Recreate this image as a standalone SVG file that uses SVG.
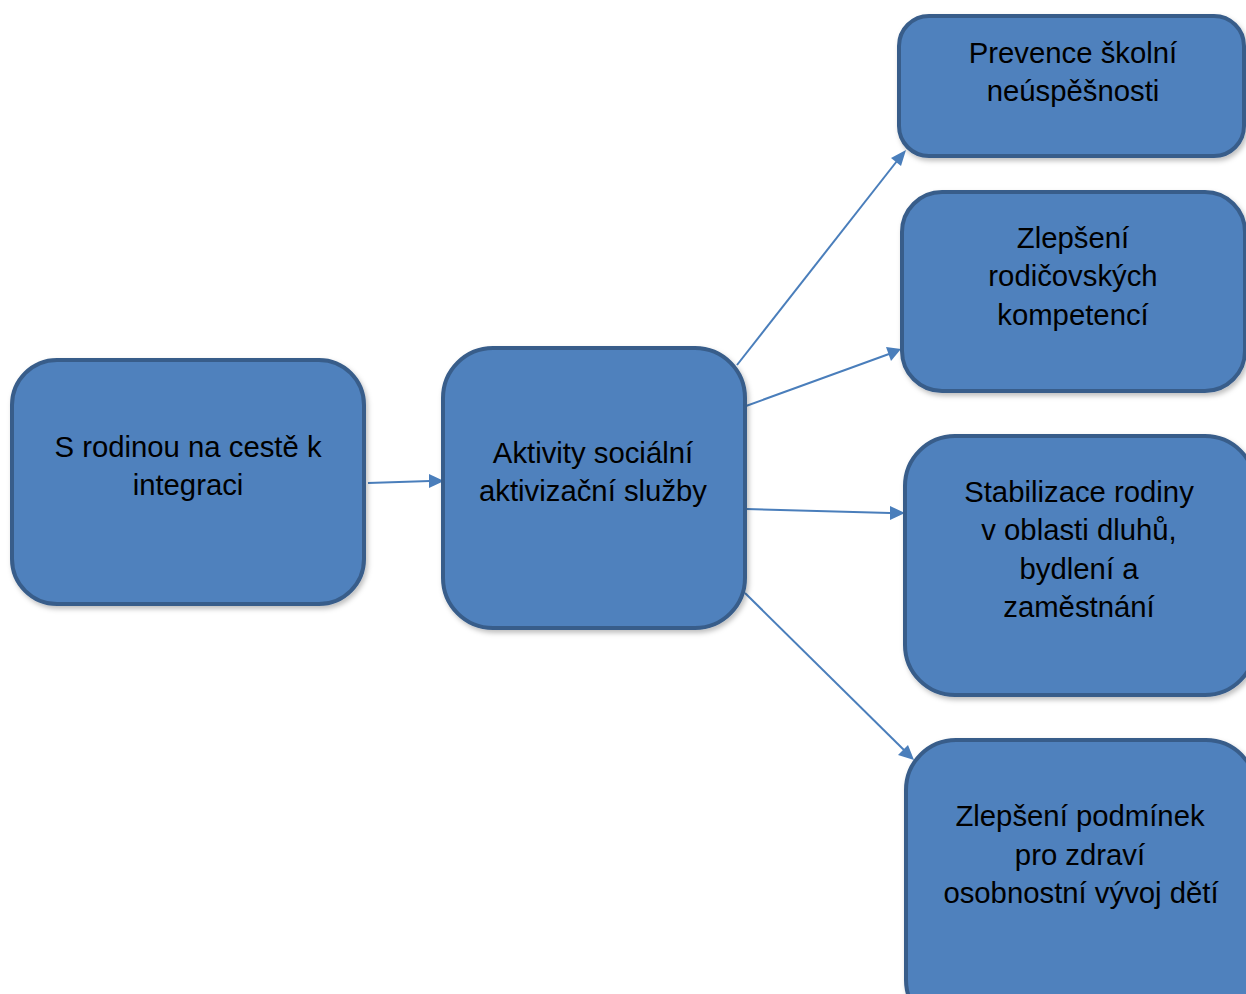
<svg xmlns="http://www.w3.org/2000/svg" width="1246" height="994" viewBox="0 0 1246 994">
<style>
.box{fill:#4F81BD;stroke:#385D8A;stroke-width:4;filter:url(#sh)}
.t{font-family:"Liberation Sans",Arial,sans-serif;font-size:29.3px;fill:#000;text-anchor:middle}
.c{stroke:#4A7EBB;stroke-width:2;fill:none}
.h{fill:#4A7EBB}
</style>
<defs>
<filter id="sh" x="-10%" y="-10%" width="120%" height="120%">
<feDropShadow dx="2" dy="3" stdDeviation="2.5" flood-color="#000" flood-opacity="0.25"/>
</filter>
</defs>
<rect width="1246" height="994" fill="#fff"/>
<g id="connectors">
<line class="c" x1="368" y1="483" x2="430" y2="481"/>
<path class="h" d="M444,481 L429,474 L429,488 z"/>
<line class="c" x1="737" y1="365" x2="897" y2="161"/>
<path class="h" d="M906,150 L901,166 L891,158 z"/>
<line class="c" x1="746" y1="406" x2="889" y2="354"/>
<path class="h" d="M901,349 L891,361 L886,347 z"/>
<line class="c" x1="746" y1="509" x2="890" y2="513"/>
<path class="h" d="M905,513 L890,520 L890,506 z"/>
<line class="c" x1="745" y1="593" x2="904" y2="750"/>
<path class="h" d="M914,760 L898,755 L908,745 z"/>
</g>
<g id="n-left">
<rect class="box" x="12" y="360" width="352" height="244" rx="45"/>
<text class="t" x="188" y="457">S rodinou na cestě k</text>
<text class="t" x="188" y="495">integraci</text>
</g>
<g id="n-middle">
<rect class="box" x="443" y="348" width="302" height="280" rx="50"/>
<text class="t" x="593" y="463">Aktivity sociální</text>
<text class="t" x="593" y="501">aktivizační služby</text>
</g>
<g id="n-1">
<rect class="box" x="899" y="16" width="345" height="140" rx="30"/>
<text class="t" x="1073" y="63">Prevence školní</text>
<text class="t" x="1073" y="101">neúspěšnosti</text>
</g>
<g id="n-2">
<rect class="box" x="902" y="192" width="343" height="199" rx="40"/>
<text class="t" x="1073" y="248">Zlepšení</text>
<text class="t" x="1073" y="286">rodičovských</text>
<text class="t" x="1073" y="325">kompetencí</text>
</g>
<g id="n-3">
<rect class="box" x="905" y="436" width="350" height="259" rx="50"/>
<text class="t" x="1079" y="502">Stabilizace rodiny</text>
<text class="t" x="1079" y="540">v oblasti dluhů,</text>
<text class="t" x="1079" y="579">bydlení a</text>
<text class="t" x="1079" y="617">zaměstnání</text>
</g>
<g id="n-4">
<rect class="box" x="906" y="740" width="350" height="290" rx="50"/>
<text class="t" x="1080" y="826">Zlepšení podmínek</text>
<text class="t" x="1080" y="865">pro zdraví</text>
<text class="t" x="1081" y="903">osobnostní vývoj dětí</text>
</g>
</svg>
